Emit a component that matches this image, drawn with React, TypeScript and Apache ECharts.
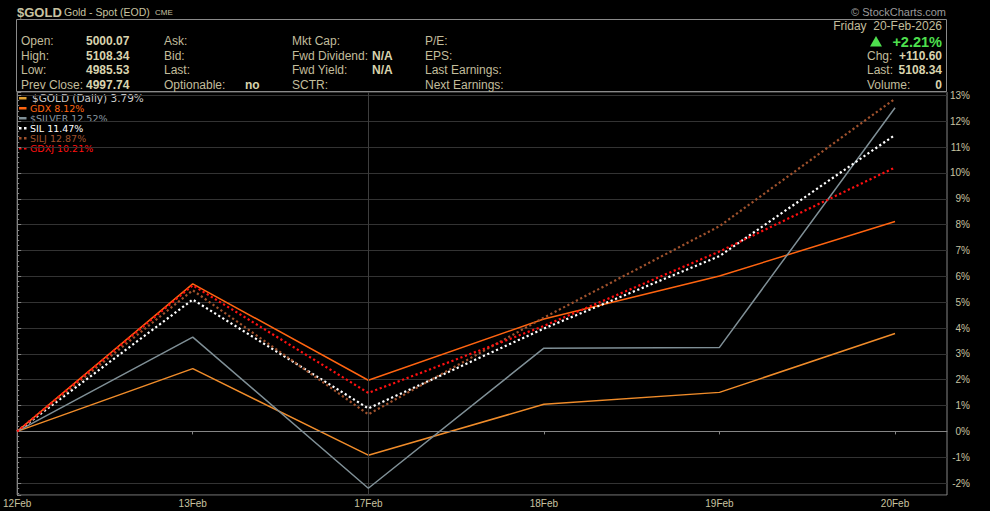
import React, { useEffect, useRef } from "react";
import * as echarts from "echarts";

const categories = ["12Feb", "13Feb", "17Feb", "18Feb", "19Feb", "20Feb"];
const goldValues = [0, 2.43, -0.92, 1.05, 1.51, 3.79];
const gdxValues = [0, 5.71, 1.98, 4.35, 6.01, 8.12];
const silverValues = [0, 3.65, -2.2, 3.22, 3.25, 12.52];
const silValues = [0, 5.1, 0.89, 3.98, 6.78, 11.47];
const siljValues = [0, 5.46, 0.66, 4.4, 7.94, 12.87];
const gdxjValues = [0, 5.65, 1.49, 4.08, 6.96, 10.21];

const seriesNames = ["$GOLD (Daily)", "GDX", "$SILVER", "SIL", "SILJ", "GDXJ"];
const seriesColors = ["#f08c2a", "#ff6410", "#7f8f96", "#ffffff", "#a0522d", "#ff1010"];
const legendTextColors = ["#c8c8c8", "#ff6410", "#8a9aa4", "#ffffff", "#a0522d", "#ff1010"];
const seriesDotted = [false, false, false, true, true, true];
const seriesData = [goldValues, gdxValues, silverValues, silValues, siljValues, gdxjValues];

const statLabels1 = ["Open:", "High:", "Low:", "Prev Close:"];
const statValues1 = ["5000.07", "5108.34", "4985.53", "4997.74"];
const statLabels2 = ["Ask:", "Bid:", "Last:", "Optionable:"];
const statValues2 = ["", "", "", "no"];
const statLabels3 = ["Mkt Cap:", "Fwd Dividend:", "Fwd Yield:", "SCTR:"];
const statValues3 = ["", "N/A", "N/A", ""];
const statLabels4 = ["P/E:", "EPS:", "Last Earnings:", "Next Earnings:"];
const rightLabels = ["Chg:", "Last:", "Volume:"];
const rightValues = ["+110.60", "5108.34", "0"];

const LABEL = "#c2bd9c";
const VALUE = "#d8d3ae";
const FONT = "'Liberation Sans', Arial, sans-serif";

export default function App() {
  const ref = useRef<HTMLDivElement>(null);
  useEffect(() => {
    document.body.style.margin = "0";
    document.body.style.background = "#000";
    const chart = echarts.init(ref.current!, null, { renderer: "svg" });

    const txt = (x: number, y: number, text: string, opts: any = {}) => ({
      type: "text",
      x,
      y,
      silent: true,
      style: {
        text,
        fill: opts.fill || LABEL,
        fontSize: opts.size || 12,
        fontWeight: opts.bold ? "bold" : "normal",
        fontFamily: opts.family || FONT,
        align: opts.align || "left",
        verticalAlign: "middle",
        lineHeight: opts.lineHeight,
      },
    });

    const rowsY = [41, 55.5, 70, 84.5];
    const graphics: any[] = [];
    graphics.push({
      type: "rect",
      shape: { x: 16.5, y: 19.5, width: 930, height: 72 },
      style: { fill: "none", stroke: "#8a8a8a", lineWidth: 1 },
      silent: true,
    });
    graphics.push(txt(17, 12, "$GOLD", { bold: true, size: 13, fill: "#c8c3a0" }));
    graphics.push(txt(64, 12, "Gold - Spot (EOD)", { size: 10.5, fill: "#c8c3a0" }));
    graphics.push(txt(155, 12.5, "CME", { size: 8, fill: "#c8c3a0" }));
    graphics.push(txt(946, 12, "© StockCharts.com", { size: 11, fill: "#9a9a9a", align: "right" }));

    rowsY.forEach((y, i) => {
      graphics.push(txt(21, y, statLabels1[i]));
      graphics.push(txt(86, y, statValues1[i], { bold: true, fill: VALUE }));
      graphics.push(txt(164, y, statLabels2[i]));
      if (statValues2[i]) graphics.push(txt(245, y, statValues2[i], { bold: true, fill: VALUE }));
      graphics.push(txt(292, y, statLabels3[i]));
      if (statValues3[i]) graphics.push(txt(372, y, statValues3[i], { bold: true, fill: VALUE }));
      graphics.push(txt(425, y, statLabels4[i]));
    });
    graphics.push(txt(942, 26, "Friday  20-Feb-2026", { align: "right" }));
    graphics.push({
      type: "polygon",
      shape: { points: [[870, 46.5], [882, 46.5], [876, 36]] },
      style: { fill: "#4ee04e" },
      silent: true,
    });
    graphics.push(txt(942, 41.5, "+2.21%", { bold: true, size: 14.5, fill: "#4ee04e", align: "right" }));
    rightLabels.forEach((l, i) => {
      graphics.push(txt(867, rowsY[i + 1], l));
      graphics.push(txt(942, rowsY[i + 1], rightValues[i], { bold: true, fill: VALUE, align: "right" }));
    });

    // legend
    seriesNames.forEach((name, i) => {
      const y = 98 + i * 10;
      const vals = seriesData[i];
      const last = vals[vals.length - 1];
      if (seriesDotted[i]) {
        graphics.push({ type: "rect", shape: { x: 19, y: y - 1, width: 2.5, height: 2.5 }, style: { fill: seriesColors[i] }, silent: true });
        graphics.push({ type: "rect", shape: { x: 24, y: y - 1, width: 2.5, height: 2.5 }, style: { fill: seriesColors[i] }, silent: true });
      } else {
        graphics.push({
          type: "rect",
          shape: { x: 19, y: y - 1, width: 7.5, height: 2.5 },
          style: { fill: i === 0 ? "#e0a030" : seriesColors[i] },
          silent: true,
        });
      }
      graphics.push(
        txt(i === 0 ? 32 : 30, y, `${name} ${last.toFixed(2)}%`, {
          size: i === 0 ? 10.5 : 9.5,
          fill: legendTextColors[i],
          family: "'DejaVu Sans', Verdana, sans-serif",
          lineHeight: 9.5,
        })
      );
    });

    const series: any[] = seriesNames.map((name, i) => ({
      name,
      type: "line",
      data: seriesData[i].map((v, k) => [k, v]),
      symbol: "none",
      lineStyle: {
        color: seriesColors[i],
        width: seriesDotted[i] ? 2.2 : 1.5,
        type: seriesDotted[i] ? [2.2, 2.6] : "solid",
      },
      z: 3 + i,
    }));
    series[0].markLine = {
      silent: true,
      symbol: "none",
      label: { show: false },
      lineStyle: { type: "solid", width: 1 },
      data: [
        { xAxis: 2, lineStyle: { color: "#3e3e3e", type: "solid", width: 1 } },
        { yAxis: 0, lineStyle: { color: "#858585", type: "solid", width: 1.2 } },
      ],
    };

    chart.setOption({
      animation: false,
      backgroundColor: "#000",
      grid: {
        left: 17,
        right: 43,
        top: 92,
        bottom: 16,
        show: true,
        borderColor: "#858585",
        borderWidth: 1,
        backgroundColor: "transparent",
      },
      xAxis: {
        type: "value",
        min: 0,
        max: 5.296,
        interval: 1,
        axisLine: { show: true, lineStyle: { color: "#858585" } },
        axisTick: { show: true, length: 3, lineStyle: { color: "#858585" } },
        splitLine: { show: false },
        axisLabel: {
          color: "#c8c3a0",
          fontSize: 10,
          fontFamily: FONT,
          margin: 3,
          showMaxLabel: false,
          formatter: (v: number) => {
            const r = Math.round(v);
            return Math.abs(v - r) < 1e-6 && categories[r] ? categories[r] : "";
          },
        },
      },
      yAxis: {
        type: "value",
        position: "right",
        min: -2.46,
        max: 13.13,
        splitNumber: 15,
        axisLine: { show: true, lineStyle: { color: "#858585" } },
        axisTick: { show: true, length: 4, lineStyle: { color: "#858585" } },
        minorTick: { show: true, splitNumber: 5, length: 2, lineStyle: { color: "#858585" } },
        splitLine: { show: true, lineStyle: { color: "#333333", width: 1 } },
        axisLabel: {
          color: "#c8c3a0",
          fontSize: 10,
          fontFamily: FONT,
          align: "right",
          margin: 23,
          showMinLabel: false,
          showMaxLabel: false,
          formatter: (v: number) => {
            const r = Math.round(v);
            return Math.abs(v - r) < 1e-6 ? `${r}%` : "";
          },
        },
      },
      graphic: graphics,
      series,
    });
    return () => chart.dispose();
  }, []);
  return (
    <div
      ref={ref}
      style={{ position: "absolute", left: 0, top: 0, width: 990, height: 511, background: "#000" }}
    />
  );
}
